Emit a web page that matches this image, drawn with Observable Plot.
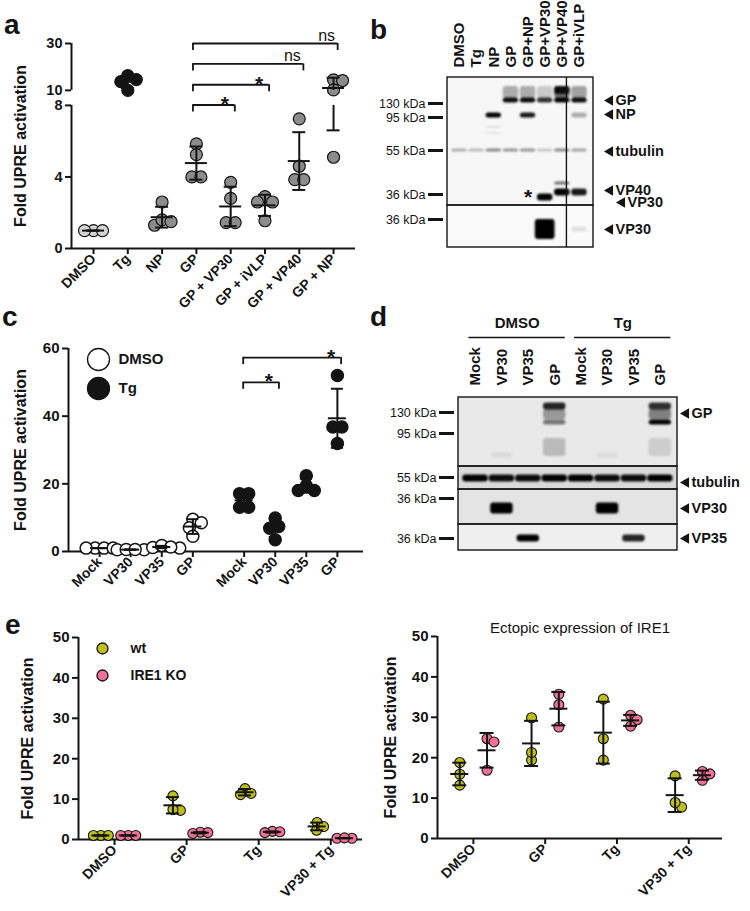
<!DOCTYPE html>
<html><head><meta charset="utf-8">
<script src="https://cdn.jsdelivr.net/npm/d3@7"></script>
<script src="https://cdn.jsdelivr.net/npm/@observablehq/plot@0.6"></script>
<style>
html,body{margin:0;padding:0;background:#fff;}
#fig{position:relative;width:750px;height:911px;overflow:hidden;background:#fff;font-family:"Liberation Sans",Arial,Helvetica,sans-serif;}
.letter{position:absolute;font-weight:bold;font-size:28px;line-height:28px;color:#141414;}
</style></head><body><div id="fig"></div>
<script>
// ---------------- DATA ----------------
// Panel a
const aCategories = ["DMSO","Tg","NP","GP","GP + VP30","GP + iVLP","GP + VP40","GP + NP"];
const aValues = [[1,1,1],[16.3,14.6,13.7,10.0],[2.6,1.3,1.6,1.5],[5.85,5.25,4.0,4.0],[3.7,2.8,1.45,1.45],[2.9,2.6,2.6,1.55],[7.25,4.6,3.85,3.85],[14.5,14.2,10.2,5.1]];
const aYTicks = [0,4,8,10,30];
const aBrackets = [
  {from:"GP", to:"GP + VP30", level:8.05, label:"*"},
  {from:"GP", to:"GP + iVLP", level:12.4, label:"*"},
  {from:"GP", to:"GP + VP40", level:21.3, label:"ns"},
  {from:"GP", to:"GP + NP", level:30, label:"ns"}
];
// Panel b (western blot)
const bLanes = ["DMSO","Tg","NP","GP","GP+NP","GP+VP30","GP+VP40","GP+iVLP"];
const bMarkers = [{kda:130,y:26},{kda:95,y:40},{kda:55,y:73},{kda:36,y:117},{kda:36,y:142}];
const bTargets = [{label:"GP",y:23},{label:"NP",y:37},{label:"tubulin",y:74},{label:"VP40",y:113},{label:"VP30",y:125},{label:"VP30",y:152}];
const bBands = [
  [3,"GPsmear",0.3],[4,"GPsmear",0.3],[5,"GPsmear",0.18],[6,"GPsmear",0.55],[7,"GPsmear",0.35],
  [6,"GPhigh",0.9],
  [3,"GP",0.95],[4,"GP",0.95],[5,"GP",0.8],[6,"GP",1],[7,"GP",0.95],
  [2,"NP",1],[4,"NP",0.9],[7,"NP",0.3],[2,"NPdeg1",0.1],[2,"NPdeg2",0.08],
  [0,"tubulin",0.3],[1,"tubulin",0.25],[2,"tubulin",0.45],[3,"tubulin",0.4],[4,"tubulin",0.4],[5,"tubulin",0.2],[6,"tubulin",0.45],[7,"tubulin",0.35],
  [5,"VP30",1],[6,"VP40",1],[6,"VP40up",0.55],[7,"VP40",0.9],
  [5,"VP30big",1],[7,"VP30faint",0.1]
];
// Panel c
const cTreatments = ["DMSO","Tg"];
const cConditions = ["Mock","VP30","VP35","GP"];
const cDMSO = [[1,1,1,1],[0.5,0.6,0.5,0.6],[1.2,1.8,1.0,1.3],[9.5,8.5,7.0,4.5]];
const cTg = [[17.1,17.1,13.1,13.1],[9.9,6.9,7.4,3.5],[22.4,19.4,18.0,18.0],[52.0,36.8,36.8,31.9]];
const cYTicks = [0,20,40,60];
const cBrackets = [
  {from:"Mock", to:"VP30", level:50, label:"*"},
  {from:"Mock", to:"GP", level:57.3, label:"*"}
];
// Panel d (western blot)
const dLanes = ["Mock","VP30","VP35","GP","Mock","VP30","VP35","GP"];
const dHeaders = [{label:"DMSO", lanes:[0,3]},{label:"Tg", lanes:[4,7]}];
const dMarkers = [{kda:130,y:15},{kda:95,y:36},{kda:55,y:80},{kda:36,y:101},{kda:36,y:141}];
const dTargets = [{label:"GP",y:16},{label:"tubulin",y:85},{label:"VP30",y:111},{label:"VP35",y:141}];
const dBands = [
  [3,"GPsmear",0.35],[3,"GPtop",0.85],[3,"GPlow",0.5],[3,"GPdeg",0.2],
  [7,"GPsmear",0.45],[7,"GPtop",0.8],[7,"GPlow",1],[7,"GPdeg",0.12],
  [1,"VP30faint",0.07],[5,"VP30faint",0.06],
  [0,"tubulin",1],[1,"tubulin",0.95],[2,"tubulin",0.95],[3,"tubulin",1],[4,"tubulin",1],[5,"tubulin",0.95],[6,"tubulin",0.95],[7,"tubulin",1],
  [1,"VP30",1],[5,"VP30",1],
  [2,"VP35",1],[6,"VP35",0.85]
];
// Panel e
const eTreatments = ["DMSO","GP","Tg","VP30 + Tg"];
const eLines = ["wt","IRE1 KO"];
const eLeftWt = [[1,1,1],[10.8,7.2,7.4],[12.6,11.1,11.4],[4.2,2.3,3.2]];
const eLeftKO = [[1,1,1],[1.8,1.5,1.7],[2.0,1.7,1.9],[0.3,0.3,0.4]];
const eRightWt = [[18.8,13.2,15.9],[29.9,19.4,21.3],[34.5,24.7,19.4],[15.5,7.8,8.9]];
const eRightKO = [[24.7,23.9,16.9],[35.7,33.1,27.6],[30.5,29.4,27.8],[16.6,14.4,16.0]];
const eYTicks = [0,10,20,30,40,50];
const eTitle = "Ectopic expression of IRE1";
const yLabelText = "Fold UPRE activation";

// ---------------- STYLE / LAYOUT ----------------
const FONT = '"Liberation Sans", Arial, Helvetica, sans-serif';
const INK = "#141414";
const aColors = ["#d5d5d5","#141414","#8c8c8c","#8c8c8c","#8c8c8c","#8c8c8c","#8c8c8c","#8c8c8c"];
const eColors = {"wt":"#bfbf1c","IRE1 KO":"#f07098"};
const fig = document.getElementById("fig");

function place(node, left, top){ node.style.position="absolute"; node.style.left=left+"px"; node.style.top=top+"px"; fig.appendChild(node); }
function letter(t,left,top){ const d=document.createElement("div"); d.className="letter"; d.textContent=t; d.style.left=left+"px"; d.style.top=top+"px"; fig.appendChild(d); }

// deterministic beeswarm offsets (pixels)
function swarmOffsets(py, D){
  const n = py.length, off = new Array(n), placed = [];
  const order = d3.range(n).sort((a,b)=>py[b]-py[a]);
  for (const i of order){
    let chosen = 0;
    outer: for (let k=0;k<600;k++){
      const cands = k===0 ? [0] : [k*0.5, -k*0.5];
      for (const c of cands){
        if (placed.every(j => (c-off[j])**2 + (py[i]-py[j])**2 >= D*D - 1e-6)){ chosen = c; break outer; }
      }
    }
    off[i] = chosen; placed.push(i);
  }
  const rows = d3.group(d3.range(n), i => py[i].toFixed(2));
  for (const [, idx] of rows) if (idx.length>1){ const m = d3.mean(idx, i=>off[i]); idx.forEach(i=>off[i]-=m); }
  return off;
}

function scatterPlot(cfg){
  const {width,height,ml,mr,mt,mb,xDomain,yDomain} = cfg;
  const yMap = cfg.yMap || (v=>v);
  const pxX = (width-ml-mr)/(xDomain[1]-xDomain[0]);
  const pxY = (height-mt-mb)/(yDomain[1]-yDomain[0]);
  const dots=[], vbars=[], hbars=[];
  for (const g of cfg.groups){
    const py = g.values.map(v=>yMap(v)*pxY);
    const off = swarmOffsets(py, cfg.D);
    g.values.forEach((v,i)=>dots.push({x:g.x+off[i]/pxX, y:yMap(v), fill:g.fill}));
    const m = d3.mean(g.values), sd = d3.deviation(g.values)||0;
    const lo = m-sd, hi = m+sd, br = cfg.breakAt;
    if (br && lo<br[0] && hi>br[1]){ vbars.push({x:g.x,y1:yMap(lo),y2:yMap(br[0])}); vbars.push({x:g.x,y1:yMap(br[1]),y2:yMap(hi)}); }
    else vbars.push({x:g.x,y1:yMap(lo),y2:yMap(hi)});
    hbars.push({y:yMap(m), x1:g.x-cfg.meanHalf/pxX, x2:g.x+cfg.meanHalf/pxX});
    for (const e of [lo,hi]) hbars.push({y:yMap(e), x1:g.x-cfg.capHalf/pxX, x2:g.x+cfg.capHalf/pxX});
  }
  const yLab = new Map(cfg.yTicks.map(t=>[yMap(t), String(t)]));
  const xLab = new Map(cfg.xTicks.map((t,i)=>[t, cfg.xLabels[i]]));
  const marks = [
    Plot.ruleY([yDomain[0]], {stroke:INK, strokeWidth:2}),
    Plot.ruleX(cfg.ySegments || [[yDomain[0], yDomain[1]]], {x:()=>xDomain[0], y1:d=>yMap(d[0]), y2:d=>yMap(d[1]), stroke:INK, strokeWidth:2}),
    Plot.axisY(cfg.yTicks.map(yMap), {tickSize:6, tickPadding:3, tickFormat:d=>yLab.get(d), fontSize:cfg.yTickFont||15, fontWeight:"bold", strokeWidth:2, stroke:INK, fill:INK, label:null}),
    Plot.axisX(cfg.xTicks, {tickSize:6, tickPadding:2, tickRotate:-45, tickFormat:d=>xLab.get(d), fontSize:14, fontWeight:"bold", strokeWidth:2, stroke:INK, fill:INK, label:null}),
    Plot.dot(dots, {x:"x", y:"y", r:cfg.r, fill:"fill", stroke:INK, strokeWidth:cfg.dotStroke||1.2}),
    Plot.ruleX(vbars, {x:"x", y1:"y1", y2:"y2", stroke:INK, strokeWidth:2}),
    Plot.ruleY(hbars, {y:"y", x1:"x1", x2:"x2", stroke:INK, strokeWidth:2}),
    Plot.text([yLabelText], {frameAnchor:"left", dx:-cfg.yLabelOffset, rotate:-90, textAnchor:"middle", lineAnchor:"middle", fontSize:16, fontWeight:"bold", fill:INK})
  ];
  if (cfg.brackets){
    const B = cfg.brackets.map(b=>({label:b.label, y:yMap(b.level), x1:b.x1, x2:b.x2}));
    const drop = 7/pxY;
    marks.push(Plot.ruleY(B, {y:"y", x1:"x1", x2:"x2", stroke:INK, strokeWidth:1.8}));
    marks.push(Plot.ruleX(B, {x:"x1", y1:"y", y2:d=>d.y-drop, stroke:INK, strokeWidth:1.8}));
    marks.push(Plot.ruleX(B, {x:"x2", y1:"y", y2:d=>d.y-drop, stroke:INK, strokeWidth:1.8}));
    marks.push(Plot.text(B.filter(d=>d.label==="*"), {x:d=>d.x2-10/pxX, y:"y", text:"label", lineAnchor:"bottom", dy:6, fontSize:21, fontWeight:"bold", fill:INK}));
    marks.push(Plot.text(B.filter(d=>d.label!=="*"), {x:d=>d.x2-11/pxX, y:"y", text:"label", lineAnchor:"bottom", dy:-3, fontSize:16, fontWeight:"normal", fill:INK}));
  }
  if (cfg.legend){
    const L = cfg.legend;
    L.items.forEach((it,i)=>{
      marks.push(Plot.dot([it], {frameAnchor:"top-left", dx:L.dx, dy:L.dy+i*L.step, r:L.r, fill:it.fill, stroke:INK, strokeWidth:1.3}));
      marks.push(Plot.text([it], {frameAnchor:"top-left", dx:L.tdx, dy:L.dy+i*L.step, text:d=>d.label, textAnchor:"start", lineAnchor:"middle", fontSize:L.fontSize, fontWeight:"bold", fill:INK}));
    });
  }
  if (cfg.title){
    marks.push(Plot.text([cfg.title], {frameAnchor:"top", dy:-8, textAnchor:"middle", lineAnchor:"middle", fontSize:15, fontWeight:"normal", fill:INK}));
  }
  return Plot.plot({width, height, marginLeft:ml, marginRight:mr, marginTop:mt, marginBottom:mb,
    x:{type:"linear", domain:xDomain}, y:{type:"linear", domain:yDomain}, color:{type:"identity"},
    style:{fontFamily:FONT, color:INK, background:"transparent", overflow:"visible"}, marks});
}

const leftTriangle = {draw(ctx, size){ const s = Math.sqrt(size/(Math.sqrt(3)/4)); const h = s*Math.sqrt(3)/2; ctx.moveTo(-h/2,0); ctx.lineTo(h/2,-s/2); ctx.lineTo(h/2,s/2); ctx.closePath(); }};

function blotPlot(cfg){
  const {width,height,ml,mr,mt,mb,xDomain,yDomain} = cfg;
  const pxX = (width-ml-mr)/(xDomain[1]-xDomain[0]);
  const bands = cfg.bands.map(([lane,target,op])=>({lane, op, ...cfg.shapes[target]}));
  const bw = d => (d.w ?? cfg.bandW)/2;
  const marks = [
    Plot.rect(cfg.panels, {x1:()=>xDomain[0], x2:()=>xDomain[1], y1:"y1", y2:"y2", fill:"bg"}),
    Plot.rect(bands, {x1:d=>d.lane-bw(d), x2:d=>d.lane+bw(d), y1:d=>d.y-d.h/2, y2:d=>d.y+d.h/2, fill:"#050505", fillOpacity:"op", rx:3, ariaLabel:"bands"}),
    Plot.ruleX(cfg.dividers||[], {x:d=>d, y1:()=>yDomain[0], y2:()=>yDomain[1], stroke:INK, strokeWidth:1.4}),
    Plot.rect(cfg.panels, {x1:()=>xDomain[0], x2:()=>xDomain[1], y1:"y1", y2:"y2", fill:"none", stroke:INK, strokeWidth:1.4}),
    Plot.ruleY(cfg.markers, {y:"y", x1:()=>xDomain[0]-19/pxX, x2:()=>xDomain[0]-4/pxX, stroke:INK, strokeWidth:3}),
    Plot.text(cfg.markers, {y:"y", frameAnchor:"left", dx:-22, textAnchor:"end", lineAnchor:"middle", text:d=>`${d.kda} kDa`, fontSize:12.5, fill:INK}),
    Plot.dot(cfg.targets, {x:(d,i)=>xDomain[1]+((cfg.targetShift[i]||0)+15)/pxX, y:"y", symbol:leftTriangle, r:3.9, fill:INK, stroke:"none"}),
    Plot.text(cfg.targets, {x:(d,i)=>xDomain[1]+((cfg.targetShift[i]||0)+22)/pxX, y:"y", text:"label", textAnchor:"start", lineAnchor:"middle", fontSize:14.5, fontWeight:"bold", fill:INK}),
    Plot.text(cfg.lanes, {x:(d,i)=>i, frameAnchor:"top", dy:-cfg.laneGap, rotate:-90, textAnchor:"start", lineAnchor:"middle", fontSize:15, fontWeight:"bold", fill:INK})
  ];
  if (cfg.headers){
    marks.push(Plot.ruleY(cfg.headers, {y:()=>yDomain[0]-60, x1:d=>d.lanes[0]-0.25, x2:d=>d.lanes[1]+0.4, stroke:INK, strokeWidth:1.4}));
    marks.push(Plot.text(cfg.headers, {x:d=>(d.lanes[0]+d.lanes[1])/2+0.08, y:()=>yDomain[0]-74, text:"label", lineAnchor:"middle", fontSize:15, fontWeight:"bold", fill:INK}));
  }
  if (cfg.notes){
    marks.push(Plot.text(cfg.notes, {x:"lane", y:"y", text:"label", lineAnchor:"middle", fontSize:21, fontWeight:"bold", dy:5, fill:INK}));
  }
  const svg = Plot.plot({width, height, marginLeft:ml, marginRight:mr, marginTop:mt, marginBottom:mb,
    x:{type:"linear", domain:xDomain, axis:null}, y:{type:"linear", domain:yDomain, reverse:true, axis:null}, color:{type:"identity"},
    style:{fontFamily:FONT, color:INK, background:"transparent", overflow:"visible"}, marks});
  // soft edges for bands (SVG gaussian blur filter)
  const ns = "http://www.w3.org/2000/svg";
  const defs = document.createElementNS(ns, "defs");
  const filt = document.createElementNS(ns, "filter");
  filt.setAttribute("id", cfg.filterId); filt.setAttribute("x","-20%"); filt.setAttribute("y","-50%"); filt.setAttribute("width","140%"); filt.setAttribute("height","200%");
  const blur = document.createElementNS(ns, "feGaussianBlur"); blur.setAttribute("stdDeviation", "1.1");
  filt.appendChild(blur); defs.appendChild(filt); svg.insertBefore(defs, svg.firstChild);
  let g = svg.querySelector('g[aria-label="bands"]');
  if (!g) { const rs = svg.querySelectorAll('g[aria-label="rect"]'); g = rs[1]; }
  if (g) g.setAttribute("filter", `url(#${cfg.filterId})`);
  return svg;
}

// ---------------- PANEL a ----------------
const BRK = {low:8, high:10, top:30, gap:0.84, upper:2.62};
const aMap = v => v<=BRK.low ? v : (v>=BRK.high ? BRK.low+BRK.gap+(v-BRK.high)/(BRK.top-BRK.high)*BRK.upper : BRK.low+(v-BRK.low)/(BRK.high-BRK.low)*BRK.gap);
const aIdx = c => aCategories.indexOf(c);
const plotA = scatterPlot({
  width:370, height:345, ml:71, mr:15, mt:43, mb:97,
  xDomain:[-0.642, 7.64], yDomain:[0, aMap(30)], yMap:aMap, breakAt:[8,10],
  ySegments:[[0,8],[10,30]], yTicks:aYTicks, yTickFont:14.5,
  xTicks:aCategories.map((c,i)=>i), xLabels:aCategories,
  groups:aValues.map((vals,i)=>({x:i, values:vals, fill:aColors[i]})),
  r:6, D:9, meanHalf:11, capHalf:6.5, yLabelOffset:51,
  brackets:aBrackets.map(b=>({label:b.label, level:b.level, x1:aIdx(b.from)-0.1, x2:aIdx(b.to)+0.12}))
});
place(plotA, 0, 0);

// ---------------- PANEL b ----------------
const plotB = blotPlot({
  width:390, height:260, ml:87, mr:157, mt:77, mb:13, filterId:"blurB",
  xDomain:[-0.7, 7.82], yDomain:[0,170], lanes:bLanes, laneGap:10, bandW:0.9,
  panels:[{y1:0,y2:128,bg:"#f7f7f7"},{y1:128,y2:170,bg:"#fafafa"}],
  dividers:[6.24],
  markers:bMarkers, targets:bTargets, targetShift:[0,0,0,0,12,0],
  bands:bBands,
  shapes:{GPsmear:{y:15,h:12}, GPhigh:{y:13,h:8}, GP:{y:23,h:5}, NP:{y:38,h:5}, NPdeg1:{y:50,h:2}, NPdeg2:{y:56,h:2},
          tubulin:{y:73,h:3}, VP30:{y:120,h:7}, VP40:{y:115,h:7}, VP40up:{y:106,h:3}, VP30big:{y:152,h:20,w:1.15}, VP30faint:{y:152,h:5}},
  notes:[{label:"*", lane:4, y:115}]
});
place(plotB, 360, 0);

// ---------------- PANEL c ----------------
const cGap = 4.65;
const cPos = (gi,ci) => ci + gi*cGap;
const cData = [cDMSO, cTg];
const cGroups = [];
cData.forEach((grp,gi)=>grp.forEach((vals,ci)=>cGroups.push({x:cPos(gi,ci), values:vals, fill: gi===0 ? "#ffffff" : INK})));
const plotC = scatterPlot({
  width:375, height:305, ml:68, mr:12, mt:48, mb:54,
  xDomain:[-1, 8.49], yDomain:[0,60], yTicks:cYTicks,
  xTicks:cTreatments.flatMap((t,gi)=>cConditions.map((c,ci)=>cPos(gi,ci))),
  xLabels:cTreatments.flatMap(()=>cConditions),
  groups:cGroups, r:6, D:9, dotStroke:1.5, meanHalf:9, capHalf:6, yLabelOffset:48,
  brackets:cBrackets.map(b=>({label:b.label, level:b.level, x1:cPos(1,cConditions.indexOf(b.from))-0.03, x2:cPos(1,cConditions.indexOf(b.to))+0.12})),
  legend:{items:cTreatments.map((t,i)=>({label:t, fill: i===0 ? "#ffffff" : INK})), dx:30, dy:11, step:29, r:11, tdx:50, fontSize:15}
});
place(plotC, 0, 300);

// ---------------- PANEL d ----------------
const plotD = blotPlot({
  width:390, height:260, ml:98, mr:73, mt:97, mb:10, filterId:"blurD",
  xDomain:[-0.644, 7.65], yDomain:[0,153], lanes:dLanes, laneGap:12, bandW:0.92,
  panels:[{y1:0,y2:69,bg:"#e9e9e9"},{y1:69,y2:92,bg:"#dadada"},{y1:92,y2:127,bg:"#e4e4e4"},{y1:127,y2:153,bg:"#efefef"}],
  markers:dMarkers, targets:dTargets, targetShift:[-8,-8,-8,-8],
  bands:dBands, headers:dHeaders,
  shapes:{GPsmear:{y:17,h:10,w:0.85}, GPtop:{y:9,h:7,w:0.85}, GPlow:{y:25,h:5,w:0.85}, GPdeg:{y:50,h:18,w:0.85}, VP30faint:{y:58,h:5,w:0.8},
          tubulin:{y:81,h:7,w:0.96}, VP30:{y:111,h:11,w:0.85}, VP35:{y:141,h:7,w:0.85}}
});
place(plotD, 360, 300);

// ---------------- PANEL e ----------------
const eOff = [-0.19, 0.19];
function eGroups(wt, ko){
  const out = [];
  [wt, ko].forEach((arr,li)=>arr.forEach((vals,ti)=>out.push({x:ti+eOff[li], values:vals, fill:eColors[eLines[li]]})));
  return out;
}
const plotE1 = scatterPlot({
  width:375, height:311, ml:78, mr:13, mt:37, mb:72,
  xDomain:[-0.5, 3.44], yDomain:[0,50], yTicks:eYTicks,
  xTicks:eTreatments.map((t,i)=>i), xLabels:eTreatments,
  groups:eGroups(eLeftWt, eLeftKO), r:5, D:7.5, dotStroke:1.1, meanHalf:9, capHalf:6.5, yLabelOffset:51,
  legend:{items:eLines.map(l=>({label:l, fill:eColors[l]})), dx:24, dy:11, step:27, r:5.5, tdx:52, fontSize:14}
});
place(plotE1, 0, 600);
const plotE2 = scatterPlot({
  width:375, height:311, ml:62, mr:28, mt:36, mb:73,
  xDomain:[-0.5, 3.47], yDomain:[0,50], yTicks:eYTicks,
  xTicks:eTreatments.map((t,i)=>i), xLabels:eTreatments,
  groups:eGroups(eRightWt, eRightKO), r:5, D:7.5, dotStroke:1.1, meanHalf:9, capHalf:7, yLabelOffset:47,
  title:eTitle
});
place(plotE2, 375, 600);

// panel letters
letter("a", 4, 11); letter("b", 370, 16); letter("c", 2, 303); letter("d", 370, 303); letter("e", 5, 611);
</script></body></html>
